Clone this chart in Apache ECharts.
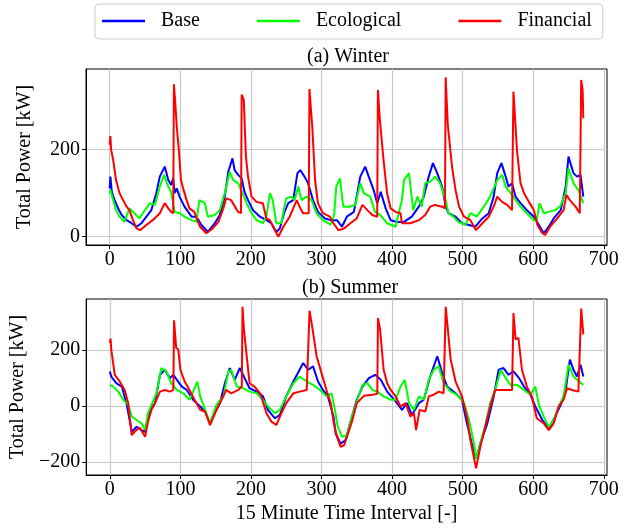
<!DOCTYPE html>
<html><head><meta charset="utf-8">
<script src="https://cdn.jsdelivr.net/npm/echarts@6/dist/echarts.min.js"></script>
<style>html,body{margin:0;padding:0;background:#fff}#c{width:629px;height:531px}</style>
</head><body><div id="c"></div>
<script>
const seriesNames = ['Base', 'Ecological', 'Financial'];
const xTicks = [0, 100, 200, 300, 400, 500, 600, 700];
const winterYTicks = [0, 200];
const summerYTicks = [-200, 0, 200];

const winterBase = [[0,111],[1,138],[3,103],[7,84],[12,65],[17,50],[24,38],[31,31],[38,23],[45,31],[52,46],[59,61],[66,100],[71,138],[78,161],[83,130],[87,119],[90,134],[92,100],[95,111],[99,92],[106,69],[116,46],[123,46],[130,27],[139,11],[149,31],[156,50],[163,92],[168,149],[174,180],[177,153],[182,142],[187,134],[191,103],[196,84],[203,61],[213,46],[222,38],[229,31],[236,11],[241,19],[247,54],[253,77],[260,84],[266,146],[270,153],[276,138],[281,123],[288,84],[295,57],[305,42],[314,38],[322,38],[329,23],[336,46],[346,57],[355,138],[362,161],[367,138],[374,107],[379,77],[384,103],[391,65],[398,38],[407,34],[417,34],[428,46],[438,69],[445,92],[452,138],[458,169],[464,146],[471,115],[476,69],[480,54],[490,46],[499,31],[509,27],[518,23],[528,42],[537,54],[544,92],[549,146],[555,169],[561,138],[565,115],[570,123],[575,92],[582,77],[591,61],[601,46],[608,27],[615,8],[622,23],[629,42],[639,61],[646,115],[650,184],[657,146],[662,138],[667,142],[671,92]];
const winterEco = [[0,100],[1,107],[5,84],[9,61],[14,46],[21,34],[28,65],[35,54],[42,42],[50,61],[57,77],[64,73],[71,115],[77,142],[83,115],[87,103],[92,57],[99,54],[106,46],[116,38],[123,34],[127,84],[135,77],[139,46],[149,50],[156,61],[163,100],[170,149],[175,130],[182,123],[188,100],[194,77],[201,54],[208,38],[217,31],[222,46],[227,100],[231,84],[236,31],[243,31],[250,88],[257,92],[262,84],[267,115],[272,84],[279,92],[286,84],[293,54],[302,38],[313,28],[318,50],[321,115],[326,134],[331,69],[339,69],[348,73],[355,123],[360,100],[369,92],[376,57],[383,50],[393,31],[405,23],[414,84],[417,130],[424,146],[430,61],[436,92],[442,69],[447,123],[454,126],[461,138],[468,123],[476,84],[480,54],[487,46],[494,34],[504,27],[511,54],[520,46],[530,69],[539,92],[549,130],[556,142],[561,115],[568,100],[575,84],[582,69],[591,54],[601,38],[605,38],[609,77],[615,54],[622,57],[631,61],[638,69],[646,100],[650,157],[657,123],[664,107],[671,77]];
const winterFin = [[0,211],[1,231],[2,200],[5,176],[9,130],[14,100],[19,84],[24,69],[28,61],[33,38],[38,19],[43,15],[52,27],[61,38],[71,54],[78,77],[83,65],[87,57],[90,54],[91,350],[93,306],[95,253],[98,199],[101,130],[104,111],[109,84],[113,65],[120,57],[123,42],[128,23],[137,8],[146,19],[154,34],[161,65],[165,88],[172,84],[182,57],[186,54],[187,326],[190,314],[193,184],[196,138],[201,92],[208,80],[217,77],[222,42],[227,38],[234,15],[239,0],[246,23],[255,46],[265,84],[269,69],[274,54],[282,54],[283,339],[287,253],[291,130],[295,77],[302,54],[312,46],[317,31],[324,15],[332,19],[341,31],[350,42],[358,73],[365,61],[372,50],[379,46],[380,337],[383,264],[385,268],[388,176],[393,100],[398,65],[405,57],[412,54],[414,31],[426,31],[438,38],[447,50],[454,69],[461,73],[471,69],[475,65],[476,366],[479,257],[481,253],[485,161],[490,107],[495,69],[502,46],[511,38],[519,15],[528,31],[537,46],[544,69],[549,92],[556,80],[563,73],[570,61],[572,333],[575,253],[577,199],[582,123],[587,100],[594,80],[601,61],[606,27],[613,8],[617,4],[624,23],[634,42],[643,61],[647,96],[652,84],[660,69],[666,54],[668,360],[670,337],[671,272]];

const summerBase = [[0,123],[2,105],[9,81],[17,69],[24,4],[31,-92],[38,-74],[45,-86],[50,-92],[57,-14],[64,10],[71,111],[78,129],[85,99],[90,111],[95,93],[102,69],[109,57],[118,22],[128,-2],[135,-20],[142,-62],[149,-20],[156,10],[163,81],[170,135],[177,93],[184,135],[191,99],[198,63],[208,51],[217,34],[224,-14],[234,-44],[241,-32],[250,34],[260,87],[269,129],[274,153],[281,129],[288,141],[295,87],[302,57],[309,34],[313,-2],[317,-38],[320,-98],[327,-134],[334,-122],[341,-56],[350,22],[358,69],[367,99],[376,111],[384,93],[393,51],[405,16],[414,-14],[421,10],[428,-32],[438,10],[445,22],[454,105],[464,177],[471,117],[478,69],[490,45],[499,22],[506,-62],[513,-134],[519,-188],[525,-134],[535,-62],[544,34],[551,129],[558,135],[565,111],[572,123],[580,99],[587,69],[596,40],[603,-2],[613,-50],[622,-80],[631,-38],[639,4],[646,57],[652,165],[657,129],[662,105],[667,147],[671,105]];
const summerEco = [[0,75],[5,69],[12,51],[19,22],[26,4],[31,-38],[38,-50],[45,-62],[50,-86],[54,-26],[59,4],[66,45],[73,135],[80,123],[87,81],[95,57],[104,45],[113,22],[121,69],[124,87],[128,34],[135,-14],[142,-62],[151,4],[161,34],[168,123],[172,129],[180,69],[189,63],[198,51],[208,45],[217,22],[224,-2],[234,-26],[241,-14],[250,34],[260,81],[269,105],[279,87],[288,75],[298,57],[307,34],[314,45],[319,-14],[323,-74],[329,-110],[336,-104],[343,-38],[350,16],[358,75],[365,81],[372,57],[379,51],[388,34],[398,22],[405,22],[412,69],[418,93],[424,10],[431,-14],[438,34],[445,22],[452,93],[459,129],[466,141],[473,81],[483,51],[492,40],[502,10],[509,-50],[516,-134],[519,-188],[525,-134],[532,-68],[539,10],[546,57],[554,129],[561,99],[568,75],[577,75],[587,57],[596,40],[603,69],[608,4],[615,-38],[622,-74],[629,-50],[636,-2],[643,34],[650,147],[657,105],[665,87],[671,75]];
const summerFin = [[0,225],[1,240],[2,201],[7,111],[14,87],[21,57],[26,10],[31,-104],[35,-92],[42,-77],[50,-110],[54,-56],[59,-14],[64,10],[71,51],[78,57],[85,51],[90,57],[91,305],[94,207],[97,201],[100,129],[106,87],[113,57],[120,22],[128,-14],[135,-20],[142,-68],[149,-26],[156,10],[165,57],[172,45],[182,57],[187,69],[188,353],[190,273],[194,177],[198,81],[205,69],[213,45],[222,-26],[229,-56],[236,-68],[243,-26],[250,10],[260,45],[269,51],[279,57],[283,339],[287,279],[293,177],[300,117],[307,57],[313,10],[318,-70],[322,-110],[327,-146],[332,-140],[336,-110],[343,-56],[350,10],[360,36],[372,40],[379,43],[380,313],[383,273],[388,129],[393,81],[398,57],[405,34],[412,-2],[419,10],[426,-38],[431,-26],[434,-86],[439,-14],[447,-20],[452,34],[459,40],[466,51],[473,45],[476,353],[479,273],[483,165],[490,87],[499,34],[506,-38],[511,-122],[519,-222],[525,-146],[532,-74],[539,-2],[546,57],[558,57],[570,57],[572,331],[575,237],[579,243],[584,129],[591,69],[598,34],[605,-44],[615,-62],[622,-86],[629,-62],[636,-2],[643,22],[648,63],[655,57],[664,51],[668,347],[671,255]];

const colors = ['#0000ff', '#00ff00', '#ff0000'];
const FONT = 'Liberation Serif';
const fmt = v => String(v).replace('-', '\u2212');

function xAxis(gi, withName) {
  return {
    type: 'value', gridIndex: gi, min: -33.55, max: 704.55,
    name: withName ? '15 Minute Time Interval [-]' : '',
    nameLocation: 'middle', nameGap: 29,
    nameTextStyle: { fontFamily: FONT, fontSize: 20, color: '#000' },
    axisLine: { show: true, onZero: false, lineStyle: { color: '#000', width: 1 } },
    axisTick: { show: true, length: 4, customValues: xTicks, lineStyle: { color: '#000' } },
    axisLabel: { customValues: xTicks, fontFamily: FONT, fontSize: 20, color: '#000', margin: 5, formatter: fmt },
    splitLine: { show: true, lineStyle: { color: '#c8c8c8', width: 1.2 } }
  };
}
function yAxis(gi, min, max, ticks) {
  return {
    type: 'value', gridIndex: gi, min: min, max: max,
    name: 'Total Power [kW]', nameLocation: 'middle', nameGap: 51, nameRotate: 90,
    nameTextStyle: { fontFamily: FONT, fontSize: 20, color: '#000' },
    axisLine: { show: true, onZero: false, lineStyle: { color: '#000', width: 1 } },
    axisTick: { show: true, length: 4, customValues: ticks, lineStyle: { color: '#000' } },
    axisLabel: { customValues: ticks, fontFamily: FONT, fontSize: 20, color: '#000', margin: 6, formatter: fmt },
    splitLine: { show: true, lineStyle: { color: '#c8c8c8', width: 1.2 } }
  };
}
function line(name, data, gi, ci) {
  return {
    name: name, type: 'line', data: data, xAxisIndex: gi, yAxisIndex: gi,
    showSymbol: false, symbol: 'none', animation: false,
    lineStyle: { color: colors[ci], width: 2 }, itemStyle: { color: colors[ci] }
  };
}

const chart = echarts.init(document.getElementById('c'));
chart.setOption({
  animation: false,
  backgroundColor: '#fff',
  grid: [
    { left: 86, top: 69, width: 521, height: 176, show: true, borderColor: '#000', borderWidth: 1 },
    { left: 86, top: 299, width: 521, height: 176, show: true, borderColor: '#000', borderWidth: 1 }
  ],
  legend: {
    data: seriesNames, left: 95, top: 4, orient: 'horizontal',
    icon: 'rect', itemWidth: 43, itemHeight: 2.5, itemGap: 57,
    padding: [7, 11, 8, 7], borderColor: '#cccccc', borderWidth: 1, borderRadius: 4,
    textStyle: { fontFamily: FONT, fontSize: 20, color: '#000', padding: [0, 0, 0, 11] }
  },
  graphic: [
    { type: 'text', left: 346 - 39, top: 47, style: { text: '(a) Winter', font: '20px "Liberation Serif"', fill: '#000' } },
    { type: 'text', left: 346 - 44, top: 278, style: { text: '(b) Summer', font: '20px "Liberation Serif"', fill: '#000' } }
  ],
  xAxis: [xAxis(0, false), xAxis(1, true)],
  yAxis: [yAxis(0, -19, 385, winterYTicks), yAxis(1, -246, 381, summerYTicks)],
  series: [
    line(seriesNames[0], winterBase, 0, 0),
    line(seriesNames[1], winterEco, 0, 1),
    line(seriesNames[2], winterFin, 0, 2),
    line(seriesNames[0], summerBase, 1, 0),
    line(seriesNames[1], summerEco, 1, 1),
    line(seriesNames[2], summerFin, 1, 2)
  ]
});
</script></body></html>
